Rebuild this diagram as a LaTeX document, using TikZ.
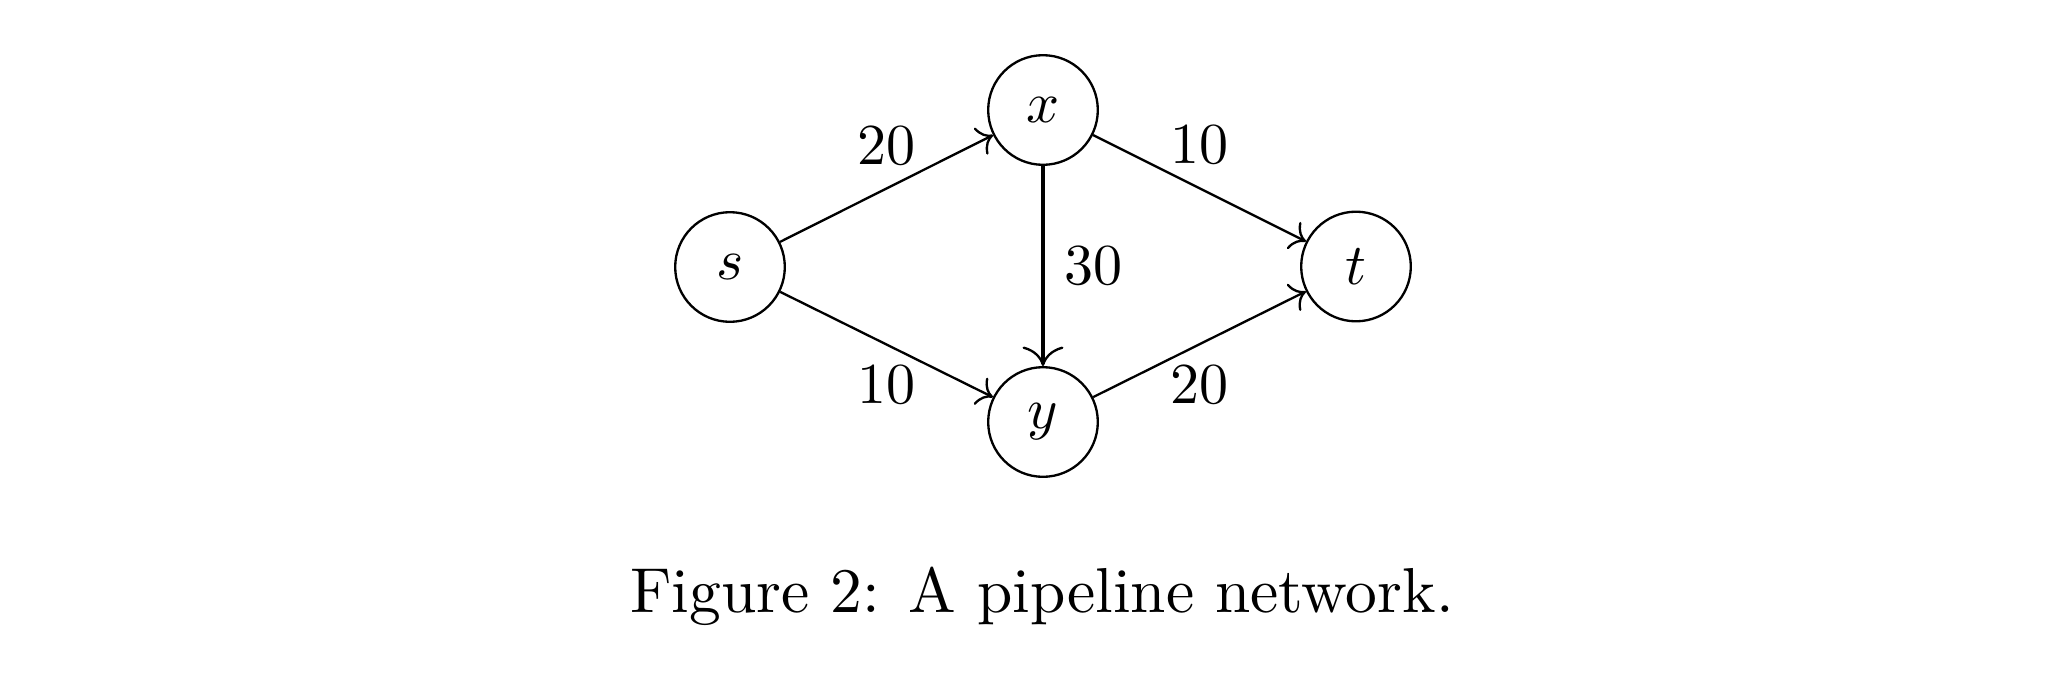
\documentclass[tikz,border=0pt]{standalone}
\usetikzlibrary{arrows.meta}
\begin{document}
\begin{tikzpicture}[x=0.172414pt, y=-0.172414pt,
  vertex/.style={circle, draw, line width=0.4pt, minimum size=18.9pt, inner sep=0pt, font=\fontsize{10}{12}\selectfont},
  edge/.style={->, line width=0.4pt},
  heavy/.style={-{Computer Modern Rightarrow[line width=0.4pt]}, line width=0.8pt},
  wlabel/.style={font=\fontsize{10}{12}\selectfont},
  capt/.style={font=\fontsize{10.95}{13.6}\selectfont, anchor=base, inner sep=0pt}]
\useasboundingbox (0,0) rectangle (2062,674);
\node[vertex] (s) at (730,267) {$s$};
\node[vertex] (x) at (1043,110) {$x$};
\node[vertex] (y) at (1043,422) {$y$};
\node[vertex] (t) at (1356,266.5) {$t$};
\draw[edge] (s) -- node[wlabel, above, yshift=0.45pt] {20} (x);
\draw[edge] (s) -- node[wlabel, below] {10} (y);
\draw[edge] (x) -- node[wlabel, above, yshift=0.45pt] {10} (t);
\draw[edge] (y) -- node[wlabel, below] {20} (t);
\draw[heavy] (x) -- node[wlabel, right] {30} (y);
\node[capt] (cap) at (1042,612.7) {Figure 2: A pipeline network.};
\end{tikzpicture}
\end{document}
